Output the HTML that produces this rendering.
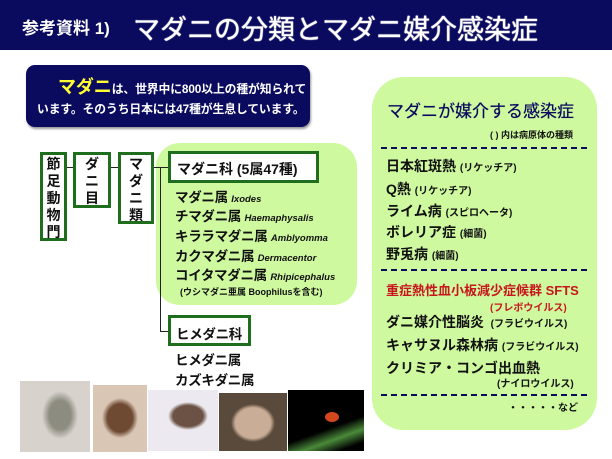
<!DOCTYPE html>
<html><head><meta charset="utf-8"><style>
*{margin:0;padding:0;box-sizing:border-box}
body{width:612px;height:459px;background:#fff;position:relative;overflow:hidden;font-family:"Liberation Sans","Noto Sans CJK JP",sans-serif;font-weight:bold;color:#111}
.a{position:absolute;white-space:nowrap}
.hdr{left:0;top:0;width:612px;height:50px;background:#0a0a5e}
.box{position:absolute;border:3px solid #1e6e1e;background:#fff}
.vt{position:absolute;font-size:14px;line-height:17px;text-align:center;width:100%}
.ln{position:absolute;background:#222}
.dash{position:absolute;height:0;border-top:2px dashed #0a0a5e;left:381px;width:206px}
.g{font-size:13.5px;letter-spacing:-0.3px}
.g i{font-size:9.5px;letter-spacing:0}
.r{font-size:14px}
.r s{text-decoration:none;font-size:10px}
</style></head><body>
<div class="a hdr"></div>
<div class="a" style="left:22px;top:14px;font-size:17px;color:#fff">参考資料 1)</div>
<div class="a" style="left:133px;top:8px;font-size:27px;color:#fff;font-weight:normal;text-shadow:0 0 1px #fff,0 0 1px #fff">マダニの分類とマダニ媒介感染症</div>

<div class="a" style="left:26px;top:65px;width:284px;height:62px;background:#0a0a5e;border-radius:9px;box-shadow:1px 2px 2px #999"></div>
<div class="a" style="left:58px;top:73px;font-size:11.8px;color:#fff;letter-spacing:-0.1px"><span style="color:#ffff33;font-size:18px">マダニ</span>は、世界中に800以上の種が知られて</div>
<div class="a" style="left:37px;top:100px;font-size:11.8px;color:#fff;letter-spacing:-0.1px">います。そのうち日本には47種が生息しています。</div>

<div class="a" style="left:372px;top:77px;width:225px;height:353px;background:#cff99f;border-radius:32px"></div>
<div class="a" style="left:387px;top:97px;font-size:17px;color:#0a0a5e;font-weight:normal;text-shadow:0 0 0.5px #0a0a5e">マダニが媒介する感染症</div>
<div class="a" style="left:490px;top:128px;font-size:9px">( ) 内は病原体の種類</div>
<div class="dash" style="top:147px"></div>
<div class="a r" style="left:386px;top:156px">日本紅斑熱 <s>(リケッチア)</s></div>
<div class="a r" style="left:386px;top:179px">Q熱 <s>(リケッチア)</s></div>
<div class="a r" style="left:386px;top:201px">ライム病 <s>(スピロヘータ)</s></div>
<div class="a r" style="left:386px;top:222px">ボレリア症 <s>(細菌)</s></div>
<div class="a r" style="left:386px;top:244px">野兎病 <s>(細菌)</s></div>
<div class="dash" style="top:269px"></div>
<div class="a" style="left:386px;top:280px;font-size:13px;color:#c8161d">重症熱性血小板減少症候群 SFTS</div>
<div class="a" style="left:490px;top:299px;font-size:10px;color:#c8161d">(フレボウイルス)</div>
<div class="a r" style="left:386px;top:312px">ダニ媒介性脳炎 <s>&nbsp;(フラビウイルス)</s></div>
<div class="a r" style="left:386px;top:335px">キャサヌル森林病 <s>(フラビウイルス)</s></div>
<div class="a r" style="left:386px;top:358px">クリミア・コンゴ出血熱</div>
<div class="a" style="left:497px;top:375px;font-size:10px">(ナイロウイルス)</div>
<div class="dash" style="top:394px"></div>
<div class="a" style="left:508px;top:399px;font-size:10px">・・・・・など</div>

<!-- tree -->
<div class="a" style="left:156px;top:143px;width:201px;height:162px;background:#cff99f;border-radius:24px"></div>
<div class="box" style="left:40px;top:152px;width:27px;height:89px"><div class="vt" style="top:1px">節<br>足<br>動<br>物<br>門</div></div>
<div class="box" style="left:73px;top:152px;width:38px;height:56px"><div class="vt" style="top:1px">ダ<br>ニ<br>目</div></div>
<div class="box" style="left:118px;top:152px;width:36px;height:72px"><div class="vt" style="top:1px">マ<br>ダ<br>ニ<br>類</div></div>
<div class="ln" style="left:67px;top:167px;width:6px;height:1px"></div>
<div class="ln" style="left:111px;top:167px;width:7px;height:1px"></div>
<div class="ln" style="left:154px;top:167px;width:14px;height:1px"></div>
<div class="ln" style="left:160px;top:167px;width:1px;height:165px"></div>
<div class="ln" style="left:160px;top:331px;width:8px;height:1px"></div>
<div class="box" style="left:168px;top:151px;width:151px;height:32px"><div class="a" style="left:6px;top:5px;font-size:14px">マダニ科 (5属47種)</div></div>
<div class="a g" style="left:175px;top:186px">マダニ属 <i>Ixodes</i></div>
<div class="a g" style="left:175px;top:205px">チマダニ属 <i>Haemaphysalis</i></div>
<div class="a g" style="left:175px;top:225px">キララマダニ属 <i>Amblyomma</i></div>
<div class="a g" style="left:175px;top:245px">カクマダニ属 <i>Dermacentor</i></div>
<div class="a g" style="left:175px;top:264px">コイタマダニ属 <i>Rhipicephalus</i></div>
<div class="a" style="left:180px;top:285px;font-size:9px">(ウシマダニ亜属 Boophilusを含む)</div>
<div class="box" style="left:168px;top:315px;width:83px;height:31px"><div class="a" style="left:5px;top:5px;font-size:13.5px;letter-spacing:-0.3px">ヒメダニ科</div></div>
<div class="a g" style="left:175px;top:349px">ヒメダニ属</div>
<div class="a g" style="left:175px;top:369px">カズキダニ属</div>

<!-- photos -->
<div class="a" style="left:20px;top:381px;width:70px;height:71px;background:radial-gradient(ellipse 18px 24px at 40px 34px,#8c8c80 60%,transparent 100%),#d8d2cc"></div>
<div class="a" style="left:93px;top:385px;width:54px;height:67px;background:radial-gradient(ellipse 18px 20px at 27px 33px,#6e4a32 70%,transparent 100%),#d9c6b4"></div>
<div class="a" style="left:148px;top:390px;width:70px;height:61px;background:radial-gradient(ellipse 20px 14px at 40px 26px,#6b5245 75%,transparent 100%),#eceaf0"></div>
<div class="a" style="left:219px;top:393px;width:68px;height:58px;background:radial-gradient(ellipse 22px 19px at 34px 30px,#c9ad96 80%,transparent 100%),#5a4a3c"></div>
<div class="a" style="left:288px;top:390px;width:76px;height:61px;background:linear-gradient(160deg,#000 60%,#4a8a3a 75%,#000 90%)"></div>
<div class="a" style="left:325px;top:412px;width:14px;height:10px;background:#d4461c;border-radius:50%"></div>
</body></html>
